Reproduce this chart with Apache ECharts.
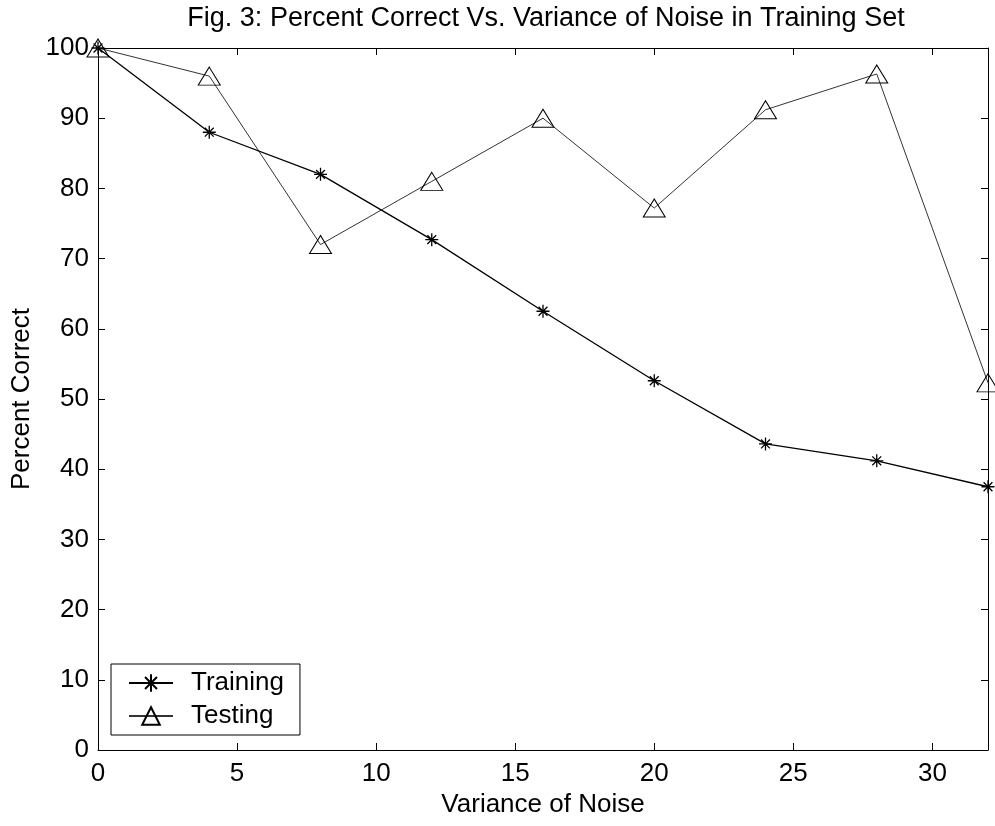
<!DOCTYPE html>
<html>
<head>
<meta charset="utf-8">
<script src="https://cdn.jsdelivr.net/npm/echarts@6/dist/echarts.min.js"></script>
<style>
  html, body { margin: 0; padding: 0; background: #fff; }
  #chart { width: 995px; height: 826px; }
</style>
</head>
<body>
<div id="chart"></div>
<script>
// Noise variance levels used for training
var noiseVariance = [0, 4, 8, 12, 16, 20, 24, 28, 32];
// Percent correct on the training set
var trainingPct = [100, 88, 82, 72.7, 62.5, 52.6, 43.6, 41.2, 37.5];
// Percent correct on the testing set
var testingPct = [100, 96, 72, 81, 90, 77.2, 91.2, 96.3, 52.3];

var xTicks = [0, 5, 10, 15, 20, 25, 30];
var yTicks = [0, 10, 20, 30, 40, 50, 60, 70, 80, 90, 100];

var FONT = '"Liberation Sans", Arial, Helvetica, sans-serif';
var ASTERISK = 'path://M0,5L10,5M5,0L5,10M1.6,1.6L8.4,8.4M8.4,1.6L1.6,8.4';

function pairs(xs, ys) {
  return xs.map(function (x, i) { return [x, ys[i]]; });
}

var chart = echarts.init(document.getElementById('chart'), null, { renderer: 'canvas' });

var axisCommon = {
  axisLine: { show: true, onZero: false, lineStyle: { color: '#000', width: 1 } },
  axisTick: { show: true, inside: true, length: 7, lineStyle: { color: '#000', width: 1 } },
  splitLine: { show: false }
};

chart.setOption({
  animation: false,
  backgroundColor: '#fff',
  textStyle: { fontFamily: FONT, color: '#000' },
  title: {
    text: 'Fig. 3: Percent Correct Vs. Variance of Noise in Training Set',
    left: 541,
    top: 0,
    textAlign: 'center',
    textStyle: { fontFamily: FONT, fontSize: 27, fontWeight: 'normal', color: '#000' }
  },
  grid: { left: 98, right: 7, top: 48, bottom: 76, containLabel: false },
  legend: {
    orient: 'vertical',
    left: 111,
    top: 664,
    padding: [6, 16, 6, 17],
    itemWidth: 44,
    itemHeight: 22,
    itemGap: 7,
    backgroundColor: '#fff',
    borderColor: '#000',
    borderWidth: 1,
    textStyle: { fontFamily: FONT, fontSize: 26, color: '#000', padding: [0, 0, 0, 13] },
    data: ['Training', 'Testing']
  },
  xAxis: [
    Object.assign({
      type: 'value', position: 'bottom', min: 0, max: 32, interval: 5,
      name: 'Variance of Noise', nameLocation: 'middle', nameGap: 40,
      nameTextStyle: { fontFamily: FONT, fontSize: 26, color: '#000' },
      axisLabel: {
        fontFamily: FONT, fontSize: 26, color: '#000', margin: 11, showMaxLabel: false,
        formatter: function (v) { return xTicks.indexOf(v) >= 0 ? String(v) : ''; }
      }
    }, axisCommon),
    Object.assign({
      type: 'value', position: 'top', min: 0, max: 32, interval: 5,
      axisLabel: { show: false }
    }, axisCommon)
  ],
  yAxis: [
    Object.assign({
      type: 'value', position: 'left', min: 0, max: 100, interval: 10,
      name: 'Percent Correct', nameLocation: 'middle', nameGap: 62,
      nameTextStyle: { fontFamily: FONT, fontSize: 26, color: '#000' },
      axisLabel: {
        fontFamily: FONT, fontSize: 26, color: '#000', margin: 9,
        formatter: function (v) { return yTicks.indexOf(v) >= 0 ? String(v) : ''; }
      }
    }, axisCommon),
    Object.assign({
      type: 'value', position: 'right', min: 0, max: 100, interval: 10,
      axisLabel: { show: false }
    }, axisCommon)
  ],
  series: [
    {
      name: 'Training',
      type: 'line',
      xAxisIndex: 0, yAxisIndex: 0,
      data: pairs(noiseVariance, trainingPct),
      color: '#000',
      symbol: ASTERISK,
      symbolSize: 13,
      showAllSymbol: true,
      lineStyle: { color: '#000', width: 1.3 },
      itemStyle: { color: 'none', borderColor: '#000', borderWidth: 1.3 },
      z: 3
    },
    {
      name: 'Testing',
      type: 'line',
      xAxisIndex: 0, yAxisIndex: 0,
      data: pairs(noiseVariance, testingPct),
      color: '#000',
      symbol: 'triangle',
      symbolSize: [22, 18],
      showAllSymbol: true,
      lineStyle: { color: '#333', width: 1 },
      itemStyle: { color: 'none', borderColor: '#000', borderWidth: 1 },
      z: 2
    }
  ]
});
</script>
</body>
</html>
